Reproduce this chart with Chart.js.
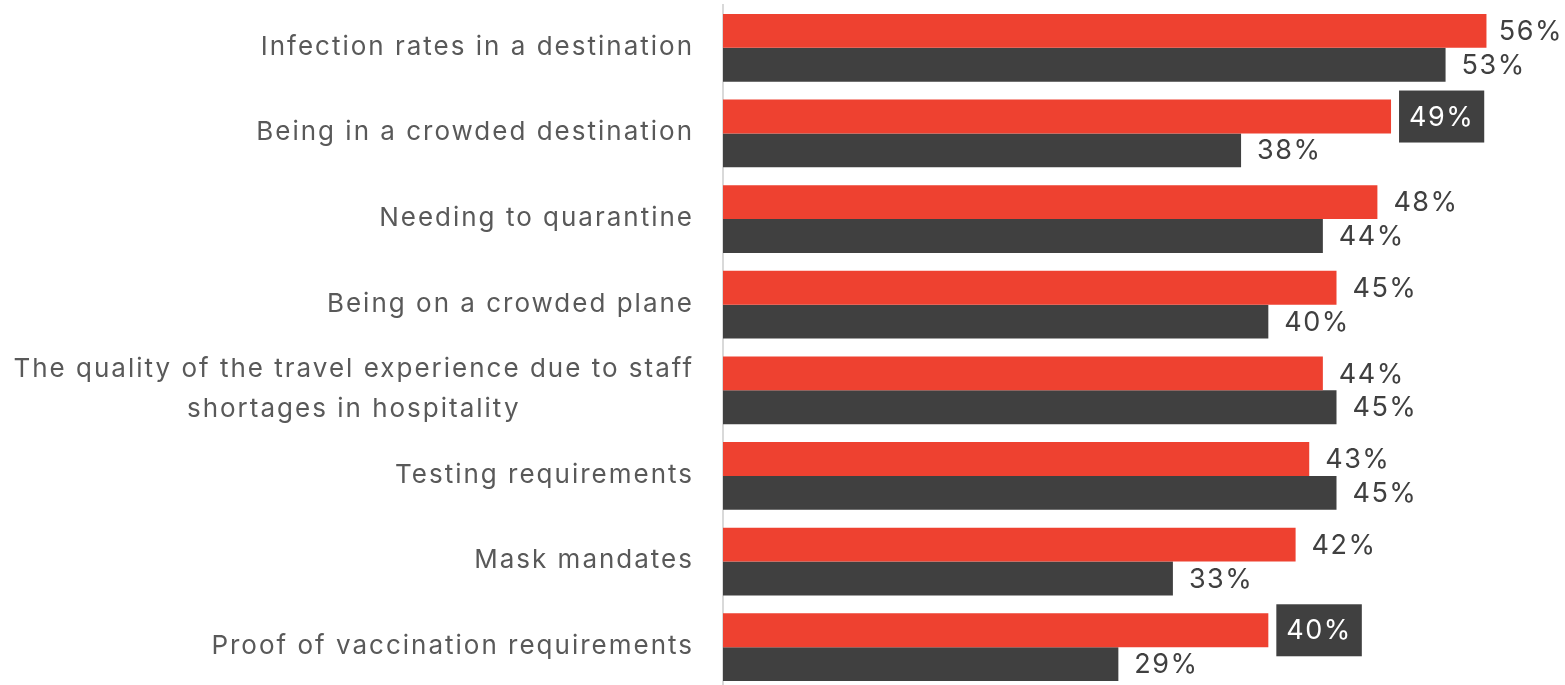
<!DOCTYPE html>
<html>
<head>
<meta charset="utf-8">
<script src="https://cdn.jsdelivr.net/npm/chart.js@4"></script>
<style>
  html, body { margin: 0; padding: 0; background: #fff; overflow: hidden; }
  #wrap { width: 1565px; height: 690px; position: relative; }
</style>
</head>
<body>
<div id="wrap"><canvas id="chart"></canvas></div>
<script>
// ---------- DATA ----------
const categories = [
  ["Infection rates in a destination"],
  ["Being in a crowded destination"],
  ["Needing to quarantine"],
  ["Being on a crowded plane"],
  ["The quality of the travel experience due to staff", "shortages in hospitality"],
  ["Testing requirements"],
  ["Mask mandates"],
  ["Proof of vaccination requirements"]
];
const seriesRed  = [56, 49, 48, 45, 44, 43, 42, 40];
const seriesDark = [53, 38, 44, 40, 45, 45, 33, 29];
// labels shown in a dark box (index in red series)
const boxedRed = [1, 7];

const RED = "#EE4130";
const DARK = "#404040";
const FONT = "Inter, 'Open Sans', sans-serif";

// ---------- LABEL PLUGIN ----------
const labelPlugin = {
  id: "labels",
  afterDraw(chart) {
    const ctx = chart.ctx;
    const y = chart.scales.y;

    // category labels
    ctx.save();
    ctx.font = "400 26px " + FONT;
    ctx.letterSpacing = "2px";
    ctx.fillStyle = "#595959";
    ctx.textBaseline = "middle";
    ctx.textAlign = "center";
    categories.forEach((lines, i) => {
      const cy = y.getPixelForValue(i);
      const w = Math.max(...lines.map(l => ctx.measureText(l).width));
      const cx = 694 - w / 2;
      const lh = 40;
      lines.forEach((l, k) => {
        ctx.fillText(l, cx, cy - 1 + (k - (lines.length - 1) / 2) * lh);
      });
    });
    ctx.restore();

    // value labels
    ctx.save();
    ctx.font = "400 27px " + FONT;
    ctx.letterSpacing = "1.5px";
    ctx.textBaseline = "middle";
    ctx.textAlign = "left";
    chart.data.datasets.forEach((ds, di) => {
      const meta = chart.getDatasetMeta(di);
      meta.data.forEach((bar, i) => {
        const txt = ds.data[i] + "%";
        const tw = ctx.measureText(txt).width;
        if (di === 0 && boxedRed.includes(i)) {
          const bx = bar.x + 8;
          ctx.fillStyle = DARK;
          ctx.fillRect(bx, bar.y - 26, tw + 20, 52);
          ctx.fillStyle = "#ffffff";
          ctx.fillText(txt, bx + 10, bar.y + 1);
        } else {
          const tx = Math.min(bar.x + 16, 1563 - tw);
          ctx.fillStyle = DARK;
          ctx.fillText(txt, tx, bar.y + 1);
        }
      });
    });
    ctx.restore();
  }
};

// ---------- CHART ----------
new Chart(document.getElementById("chart"), {
  type: "bar",
  data: {
    labels: categories,
    datasets: [
      { data: seriesRed, backgroundColor: RED },
      { data: seriesDark, backgroundColor: DARK }
    ]
  },
  options: {
    indexAxis: "y",
    responsive: true,
    maintainAspectRatio: false,
    animation: false,
    events: [],
    layout: { padding: { top: 5, bottom: 0, left: 0, right: 24 } },
    categoryPercentage: 0.79,
    barPercentage: 1,
    plugins: { legend: { display: false }, tooltip: { enabled: false } },
    scales: {
      x: {
        min: 0,
        max: 60,
        display: false
      },
      y: {
        ticks: { display: false },
        grid: { display: false },
        border: { display: true, color: "#d9d9d9", width: 2 },
        afterFit(scale) { scale.width = 723; }
      }
    }
  },
  plugins: [labelPlugin]
});
</script>
</body>
</html>
